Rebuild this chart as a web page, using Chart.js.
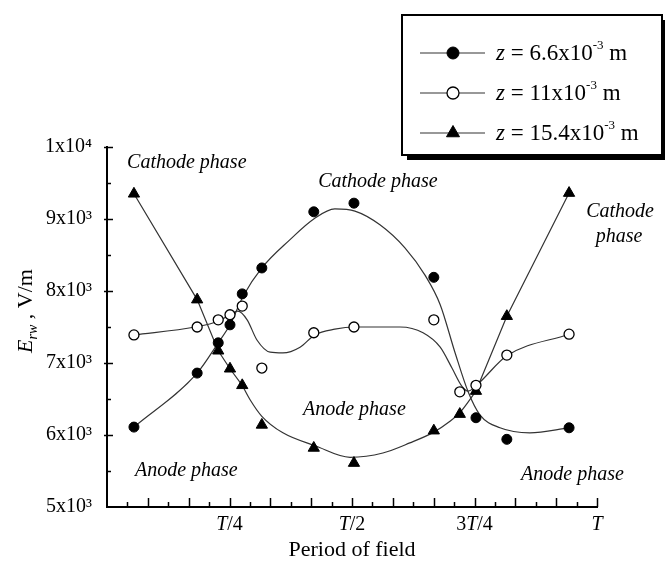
<!DOCTYPE html>
<html>
<head>
<meta charset="utf-8">
<script src="https://cdn.jsdelivr.net/npm/chart.js@4.4.1/dist/chart.umd.min.js"></script>
<style>
  body { margin: 0; background: #fff; }
  #wrap { width: 665px; height: 561px; }
</style>
</head>
<body>
<div id="wrap"><canvas id="chart" width="665" height="561"></canvas></div>
<script>
// time within one period (fraction of T) and measured field E_rw (V/m)
const periodX = [0.055, 0.184, 0.227, 0.251, 0.276, 0.316, 0.422, 0.504, 0.667, 0.720, 0.753, 0.816, 0.943];
const fieldZ66 = [6110, 6860, 7280, 7530, 7960, 8320, 9100, 9220, 8190, null, 6240, 5940, 6100];
const fieldZ11 = [7390, 7500, 7600, 7670, 7790, 6930, 7420, 7500, 7600, 6600, 6690, 7110, 7400];
const fieldZ154 = [9350, 7880, 7170, 6920, 6690, 6140, 5820, 5610, 6060, 6290, 6610, 7650, 9360];

// smoothed fit curves
const fitX66 = [0.055, 0.184, 0.227, 0.251, 0.278, 0.316, 0.373, 0.422, 0.465, 0.506, 0.557, 0.608, 0.649, 0.680, 0.710, 0.737, 0.761, 0.802, 0.863, 0.943];
const fitY66 = [6110, 6860, 7280, 7530, 7930, 8320, 8710, 9000, 9140, 9110, 8920, 8600, 8220, 7810, 7150, 6600, 6280, 6100, 6030, 6100];
const fitX11 = [0.055, 0.180, 0.227, 0.251, 0.267, 0.286, 0.306, 0.333, 0.359, 0.394, 0.424, 0.465, 0.506, 0.598, 0.645, 0.680, 0.704, 0.724, 0.737, 0.757, 0.816, 0.943];
const fitY11 = [7390, 7500, 7580, 7670, 7720, 7600, 7320, 7150, 7140, 7220, 7390, 7470, 7500, 7500, 7420, 7220, 6930, 6680, 6610, 6710, 7100, 7400];
const fitX154 = [0.276, 0.292, 0.316, 0.359, 0.425, 0.496, 0.563, 0.618, 0.667, 0.700, 0.720, 0.753];
const fitY154 = [6690, 6490, 6260, 6030, 5850, 5690, 5750, 5890, 6040, 6190, 6310, 6610];

const seriesLabels = ['6.6', '11', '15.4'];
const xTickValues = [0.25, 0.5, 0.75, 1];
const xTickLabels = ['T/4', 'T/2', '3T/4', 'T'];
const yTickValues = [5000, 6000, 7000, 8000, 9000, 10000];
const yTickLabels = ['5x10³', '6x10³', '7x10³', '8x10³', '9x10³', '1x10⁴'];

const SERIF = "'Liberation Serif', 'Times New Roman', serif";
const pts = (xs, ys) => xs.map((x, i) => ({x: x, y: ys[i]}));
const triPts = pts(periodX, fieldZ154);

const lineStyle = {
  showLine: true, pointRadius: 0, borderColor: '#333', borderWidth: 1.2, order: 1
};

const markers = [
  {label: seriesLabels[0], data: pts(periodX, fieldZ66), pointStyle: 'circle', pointRadius: 5,
   pointBackgroundColor: '#000', pointBorderColor: '#000', pointBorderWidth: 1, showLine: false, order: 0},
  {label: seriesLabels[1], data: pts(periodX, fieldZ11), pointStyle: 'circle', pointRadius: 5,
   pointBackgroundColor: '#fff', pointBorderColor: '#000', pointBorderWidth: 1.3, showLine: false, order: 0},
  {label: seriesLabels[2], data: triPts, pointStyle: 'triangle', pointRadius: 6.5,
   pointBackgroundColor: '#000', pointBorderColor: '#000', pointBorderWidth: 1, showLine: false, order: 0}
];

const lines = [
  Object.assign({data: pts(fitX66, fitY66), cubicInterpolationMode: 'monotone'}, lineStyle),
  Object.assign({data: pts(fitX11, fitY11), cubicInterpolationMode: 'monotone'}, lineStyle),
  Object.assign({data: pts(fitX154, fitY154), cubicInterpolationMode: 'monotone'}, lineStyle),
  Object.assign({data: triPts.slice(0, 5), tension: 0}, lineStyle),
  Object.assign({data: triPts.slice(10), tension: 0}, lineStyle)
];

// draws text pieces with different fonts one after another
function drawRuns(ctx, runs, x, y, align) {
  let w = 0;
  runs.forEach(r => { ctx.font = r.font; w += ctx.measureText(r.t).width; });
  let cx = align === 'center' ? x - w / 2 : x;
  runs.forEach(r => {
    ctx.font = r.font;
    ctx.fillText(r.t, cx, y + (r.dy || 0));
    cx += ctx.measureText(r.t).width;
  });
}

const notes = [
  {t: 'Cathode phase', x: 0.041, y: 9708, align: 'left'},
  {t: 'Cathode phase', x: 0.431, y: 9444, align: 'left'},
  {t: 'Cathode', x: 1.047, y: 9028, align: 'center'},
  {t: 'phase', x: 1.045, y: 8681, align: 'center'},
  {t: 'Anode phase', x: 0.400, y: 6278, align: 'left'},
  {t: 'Anode phase', x: 0.057, y: 5431, align: 'left'},
  {t: 'Anode phase', x: 0.845, y: 5375, align: 'left'}
];

const decor = {
  id: 'decor',
  afterDraw(chart) {
    const {ctx} = chart;
    const x = chart.scales.x, y = chart.scales.y;
    ctx.save();
    ctx.strokeStyle = '#000';
    ctx.fillStyle = '#000';
    ctx.lineWidth = 1.5;

    // inward tick marks on the time axis, every T/24
    for (let i = 1; i <= 24; i++) {
      const px = Math.round(x.getPixelForValue(i / 24)) + 0.5;
      const len = i % 2 === 0 ? 9 : 5;
      ctx.beginPath();
      ctx.moveTo(px, y.bottom);
      ctx.lineTo(px, y.bottom - len);
      ctx.stroke();
    }
    // tick marks on the field axis
    y.ticks.forEach(t => {
      if (t.value === y.min) return;
      const py = Math.round(y.getPixelForValue(t.value)) + 0.5;
      const major = yTickValues.includes(t.value);
      ctx.beginPath();
      ctx.moveTo(x.left - (major ? 3 : 0), py);
      ctx.lineTo(x.left + (major ? 6 : 4), py);
      ctx.stroke();
    });

    // time labels with italic T
    ctx.textBaseline = 'alphabetic';
    xTickValues.forEach((v, i) => {
      const parts = xTickLabels[i].split('T');
      drawRuns(ctx, [
        {t: parts[0], font: '20px ' + SERIF},
        {t: 'T', font: 'italic 20px ' + SERIF},
        {t: parts[1], font: '20px ' + SERIF}
      ], x.getPixelForValue(v), y.bottom + 23, 'center');
    });

    // y axis title
    ctx.save();
    ctx.translate(32, (y.top + y.bottom) / 2 - 16);
    ctx.rotate(-Math.PI / 2);
    drawRuns(ctx, [
      {t: 'E', font: 'italic 22px ' + SERIF},
      {t: 'rw', font: 'italic 14px ' + SERIF, dy: 5},
      {t: ' , V/m', font: '22px ' + SERIF}
    ], 0, 0, 'center');
    ctx.restore();

    // phase annotations
    ctx.font = 'italic 20px ' + SERIF;
    notes.forEach(n => {
      ctx.textAlign = n.align;
      ctx.fillText(n.t, x.getPixelForValue(n.x), y.getPixelForValue(n.y));
    });
    ctx.textAlign = 'left';

    // legend box with drop shadow
    const bx = 402, by = 15, bw = 260, bh = 140;
    ctx.fillRect(bx + 5, by + 5, bw, bh);
    ctx.fillStyle = '#fff';
    ctx.fillRect(bx, by, bw, bh);
    ctx.lineWidth = 2;
    ctx.strokeRect(bx, by, bw, bh);

    markers.forEach((ds, i) => {
      const ry = by + 38 + i * 40;
      ctx.strokeStyle = '#333';
      ctx.lineWidth = 1.2;
      ctx.beginPath();
      ctx.moveTo(bx + 18, ry);
      ctx.lineTo(bx + 83, ry);
      ctx.stroke();
      ctx.fillStyle = ds.pointBackgroundColor;
      ctx.strokeStyle = ds.pointBorderColor;
      ctx.lineWidth = ds.pointBorderWidth;
      Chart.helpers.drawPoint(ctx, {
        pointStyle: ds.pointStyle, radius: ds.pointRadius + 1, rotation: 0, borderWidth: ds.pointBorderWidth
      }, bx + 51, ry);
      ctx.fillStyle = '#000';
      drawRuns(ctx, [
        {t: 'z', font: 'italic 23px ' + SERIF},
        {t: ' = ' + ds.label + 'x10', font: '23px ' + SERIF},
        {t: '-3', font: '13px ' + SERIF, dy: -11},
        {t: ' m', font: '23px ' + SERIF}
      ], bx + 94, ry + 7, 'left');
    });
    ctx.restore();
  }
};

new Chart(document.getElementById('chart'), {
  type: 'scatter',
  data: {datasets: markers.concat(lines)},
  options: {
    responsive: false,
    animation: false,
    layout: {padding: {top: 147, right: 68, left: 0, bottom: 0}},
    plugins: {legend: {display: false}, tooltip: {enabled: false}},
    scales: {
      x: {
        type: 'linear', min: 0, max: 1,
        ticks: {display: false},
        grid: {display: false},
        border: {display: true, color: '#000', width: 2},
        title: {display: true, text: 'Period of field', color: '#000',
                font: {family: SERIF, size: 22, lineHeight: 1}, padding: 0},
        afterFit: s => { s.height = 54; }
      },
      y: {
        type: 'linear', min: 5000, max: 10000,
        ticks: {
          stepSize: 500, autoSkip: false, color: '#000', padding: 7,
          font: {family: SERIF, size: 20},
          callback: v => { const i = yTickValues.indexOf(v); return i >= 0 ? yTickLabels[i] : ''; }
        },
        grid: {display: false},
        border: {display: true, color: '#000', width: 2},
        afterFit: s => { s.width = 107; }
      }
    }
  },
  plugins: [decor]
});
</script>
</body>
</html>
